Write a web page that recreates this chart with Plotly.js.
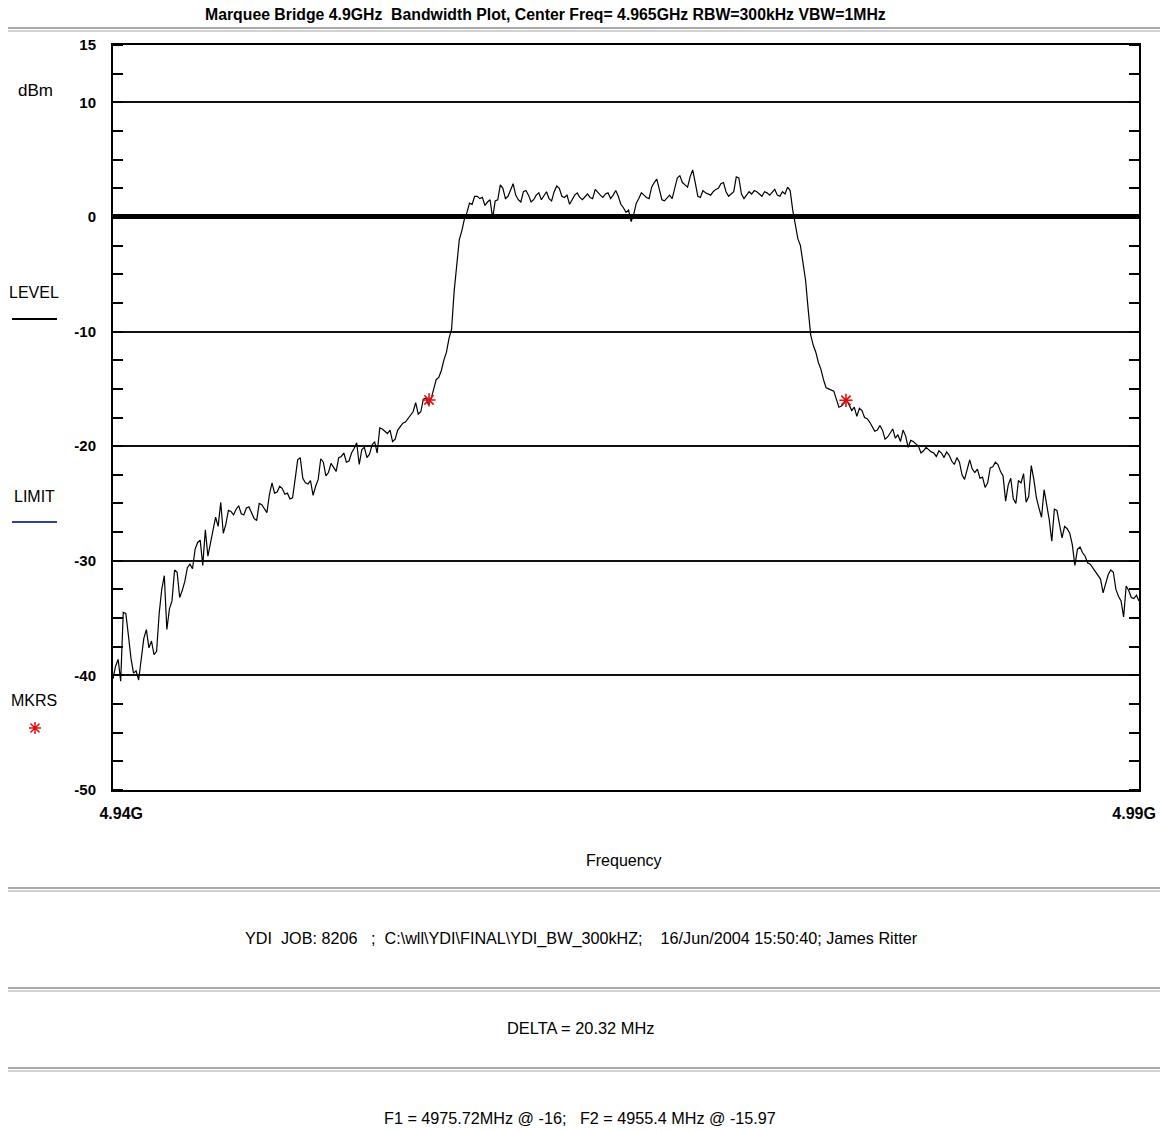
<!DOCTYPE html>
<html>
<head>
<meta charset="utf-8">
<script src="https://cdn.plot.ly/plotly-3.0.1.min.js"></script>
<style>html,body{margin:0;padding:0;background:#fff;}#chart{width:1160px;height:1132px;}</style>
</head>
<body>
<div id="chart"></div>
<script>
// ---- data ----
const startFreqMHz = 4940;
const stepMHz = 0.125;
const levelDbm = [
 -40.3,-39.2,-38.6,-40.5,-34.5,-34.6,-36.5,-38.5,-39.8,-39.6,
 -40.4,-38.6,-36.8,-36.0,-37.6,-37.0,-38.2,-37.9,-34.6,-32.5,
 -31.3,-36.0,-34.2,-33.5,-30.8,-31.0,-33.2,-32.6,-31.8,-30.6,
 -30.3,-30.7,-29.0,-28.4,-28.2,-30.4,-27.3,-29.6,-28.5,-27.6,
 -26.2,-27.0,-24.9,-27.6,-26.8,-25.6,-25.7,-26.0,-25.5,-25.2,
 -25.9,-26.0,-25.4,-25.3,-25.8,-26.3,-26.5,-25.0,-25.1,-25.4,
 -25.8,-24.2,-23.2,-24.1,-24.0,-23.5,-23.7,-24.2,-24.1,-24.6,
 -24.5,-22.9,-21.2,-21.0,-22.8,-23.2,-23.3,-23.0,-24.3,-23.5,
 -22.9,-21.1,-21.4,-22.6,-22.3,-21.5,-21.8,-22.2,-21.0,-20.9,
 -20.6,-21.4,-21.3,-20.6,-20.2,-19.7,-21.6,-20.3,-20.1,-21.0,
 -20.7,-19.9,-19.6,-20.6,-18.4,-18.5,-18.7,-18.9,-18.6,-19.6,
 -19.4,-18.6,-18.3,-18.0,-17.9,-17.6,-17.3,-17.0,-16.2,-17.2,
 -17.0,-15.9,-15.8,-16.4,-15.9,-14.9,-14.2,-14.0,-13.4,-12.5,
 -11.8,-10.6,-9.8,-6.5,-4.0,-2.0,-1.2,-0.2,0.4,1.2,
 1.1,1.8,1.8,1.6,1.7,1.0,1.3,1.5,-0.1,1.4,
 1.5,2.8,2.5,1.6,1.8,2.4,2.9,1.9,1.5,1.3,
 2.2,2.3,1.9,1.3,1.5,1.9,2.1,1.5,1.8,2.2,
 1.6,1.4,2.2,2.7,2.5,1.8,1.7,1.9,1.1,1.5,
 1.9,2.1,1.7,1.5,1.8,2.0,1.7,1.6,2.4,2.1,
 1.9,1.7,2.0,2.1,1.6,1.9,2.3,1.8,1.1,0.8,
 0.4,0.6,-0.4,0.2,1.2,1.6,2.1,1.9,1.7,1.6,
 2.6,3.0,3.3,2.4,1.5,1.4,1.7,1.9,1.6,2.6,
 3.4,3.6,3.0,2.8,2.6,3.5,4.1,3.0,1.8,1.7,
 2.3,2.1,2.0,1.9,2.2,2.4,2.5,2.9,3.0,2.2,
 1.8,2.0,2.2,3.5,3.4,2.0,1.6,1.9,2.2,2.0,
 2.3,2.2,2.0,1.8,2.2,2.1,1.9,2.2,2.4,1.9,
 1.8,2.2,2.0,2.6,2.3,0.6,-0.8,-1.9,-2.5,-4.0,
 -5.5,-8.0,-10.3,-11.2,-11.8,-12.7,-13.3,-14.2,-14.9,-15.0,
 -15.1,-15.2,-15.9,-16.6,-16.5,-16.2,-16.0,-16.4,-16.9,-16.6,
 -17.4,-16.7,-16.9,-17.5,-17.6,-17.9,-18.3,-18.7,-18.6,-18.2,
 -18.6,-19.4,-19.2,-18.8,-18.5,-19.3,-19.0,-19.6,-18.6,-19.1,
 -20.1,-19.5,-19.6,-19.8,-20.0,-20.6,-20.4,-20.1,-20.3,-20.5,
 -20.6,-20.9,-20.4,-20.6,-21.0,-20.5,-20.8,-21.3,-21.6,-21.0,
 -21.4,-22.5,-22.9,-22.0,-21.2,-22.0,-22.3,-22.0,-22.8,-22.7,
 -23.6,-23.2,-21.9,-21.8,-21.4,-21.6,-22.2,-22.6,-24.8,-23.4,
 -22.8,-24.6,-25.0,-23.0,-23.2,-22.4,-24.9,-24.4,-21.7,-22.9,
 -24.5,-25.4,-26.2,-23.8,-25.0,-26.4,-28.3,-25.5,-25.6,-26.9,
 -28.0,-27.0,-27.2,-27.6,-28.6,-30.4,-29.0,-28.8,-29.3,-29.6,
 -30.2,-30.3,-30.6,-30.9,-31.2,-31.6,-32.8,-31.9,-31.2,-30.8,
 -31.0,-32.5,-33.1,-33.5,-34.9,-32.2,-32.6,-33.2,-33.3,-33.0,
 -33.5
];
const markerFreqMHz = [4955.4, 4975.72];
const markerLevelDbm = [-15.97, -16];
const yTickVals = [15, 10, 0, -10, -20, -30, -40, -50];
const yTickText = ['15', '10', '0', '-10', '-20', '-30', '-40', '-50'];
const xTickVals = [4940.4, 4989.76];
const xTickText = ['4.94G', '4.99G'];
const titleText = 'Marquee Bridge 4.9GHz  Bandwidth Plot, Center Freq= 4.965GHz RBW=300kHz VBW=1MHz';
const footerLines = [
  'YDI  JOB: 8206   ;  C:\\wll\\YDI\\FINAL\\YDI_BW_300kHZ;    16/Jun/2004 15:50:40; James Ritter',
  'DELTA = 20.32 MHz',
  'F1 = 4975.72MHz @ -16;   F2 = 4955.4 MHz @ -15.97'
];
const legendLabels = ['dBm', 'LEVEL', 'LIMIT', 'MKRS'];

const freqMHz = levelDbm.map((_, i) => startFreqMHz + i * stepMHz);

// ---- layout helpers (pixel -> paper) ----
const L = 113, R = 1139, T = 45, B = 790;
const px = x => (x - L) / (R - L);
const py = y => (B - y) / (B - T);
const FONT = 'Liberation Sans, Arial, sans-serif';

const shapes = [];
function sep(y) {
  shapes.push({type:'line', xref:'paper', yref:'paper', x0:px(8), x1:px(1160), y0:py(y), y1:py(y), line:{color:'#a9a9a9', width:2}});
  shapes.push({type:'line', xref:'paper', yref:'paper', x0:px(8), x1:px(1160), y0:py(y+3), y1:py(y+3), line:{color:'#d2d2d2', width:2}});
}
sep(28); sep(888); sep(988); sep(1068);
shapes.push({type:'line', xref:'paper', yref:'paper', x0:px(12), x1:px(57), y0:py(319), y1:py(319), line:{color:'#000', width:2}});
shapes.push({type:'line', xref:'paper', yref:'paper', x0:px(12), x1:px(57), y0:py(522), y1:py(522), line:{color:'#3040a0', width:2}});
shapes.push({type:'path', xref:'paper', yref:'paper', xsizemode:'pixel', ysizemode:'pixel', xanchor:px(35), yanchor:py(728),
  path:'M -6,0 L 6,0 M 0,-6 L 0,6 M -4.5,-4.5 L 4.5,4.5 M -4.5,4.5 L 4.5,-4.5', line:{color:'#e01010', width:1.5}});

const annotations = [];
function ann(text, x, y, size, bold) {
  annotations.push({text, xref:'paper', yref:'paper', x:px(x), y:py(y), xanchor:'center', yanchor:'middle', showarrow:false,
    font:{family:FONT, size, color:'#000', weight: bold ? 700 : 400}});
}
ann(titleText, 545, 14, 15.8, true);
ann(legendLabels[0], 35, 90, 17, false);
ann(legendLabels[1], 34, 292, 16, false);
ann(legendLabels[2], 34, 496, 16, false);
ann(legendLabels[3], 34, 700, 16, false);
ann('Frequency', 624, 860, 16, false);
ann(footerLines[0], 581, 938, 16.2, false);
ann(footerLines[1], 580, 1028, 16.4, false);
ann(footerLines[2], 580, 1118, 16.2, false);

const data = [
  {x: freqMHz, y: levelDbm, type:'scatter', mode:'lines', line:{color:'#000', width:1.2}, hoverinfo:'x+y'},
  {x: markerFreqMHz, y: markerLevelDbm, type:'scatter', mode:'markers',
   marker:{symbol:'asterisk-open', size:11, color:'#e01010', line:{color:'#e01010', width:1.6}}}
];

const layout = {
  width:1160, height:1132,
  margin:{l:L, r:1160-R, t:T, b:1132-B, pad:0},
  paper_bgcolor:'#fff', plot_bgcolor:'#fff',
  showlegend:false,
  font:{family:FONT, color:'#000'},
  xaxis:{
    range:[4940, 4990], tickmode:'array', tickvals:xTickVals, ticktext:xTickText,
    ticks:'', showgrid:false, zeroline:false,
    showline:true, linecolor:'#000', linewidth:2, mirror:true,
    tickfont:{family:FONT, size:16, weight:700}, ticklabelstandoff:8, ticklabeloverflow:'allow'
  },
  yaxis:{
    range:[-50, 15], tickmode:'array', tickvals:yTickVals, ticktext:yTickText,
    ticks:'', showgrid:true, gridcolor:'#111', gridwidth:2,
    zeroline:true, zerolinecolor:'#000', zerolinewidth:5,
    showline:true, linecolor:'#000', linewidth:2, mirror:'allticks',
    minor:{tick0:0, dtick:2.5, ticks:'inside', ticklen:10, tickcolor:'#000', tickwidth:2, showgrid:false},
    tickfont:{family:FONT, size:15, weight:700}, ticklabelstandoff:12, ticklabeloverflow:'allow'
  },
  shapes, annotations
};

Plotly.newPlot('chart', data, layout, {displayModeBar:false, staticPlot:true});
</script>
</body>
</html>
